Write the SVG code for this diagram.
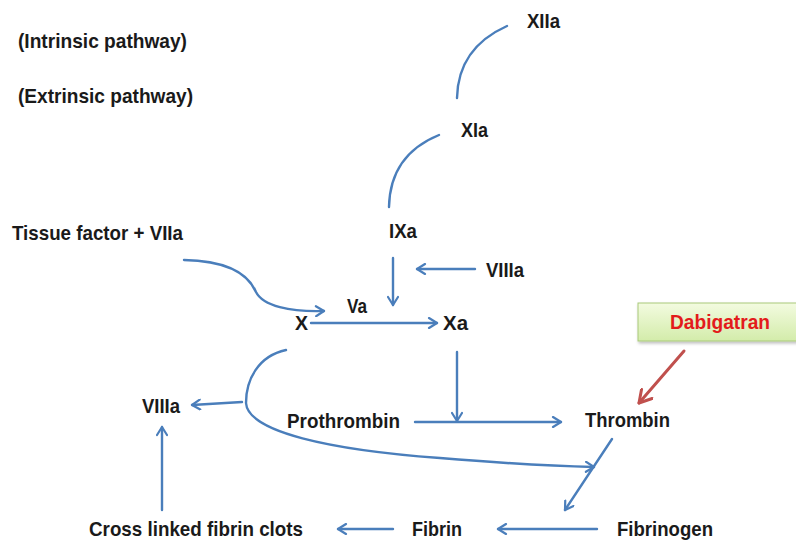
<svg xmlns="http://www.w3.org/2000/svg" width="796" height="542" viewBox="0 0 796 542">
<style>
text{font-family:"Liberation Sans",Arial,sans-serif;font-weight:bold;font-size:21px;fill:#1a1a1a}
.c{fill:none;stroke:#4a7ebb;stroke-width:2.4;stroke-linecap:round}
.r{fill:none;stroke:#c0504d;stroke-width:3;stroke-linecap:round}
</style>
<defs>
<marker id="a" viewBox="0 0 12 12" refX="10" refY="6" markerWidth="12" markerHeight="12" markerUnits="userSpaceOnUse" orient="auto">
<path d="M2,1 L10,6 L2,11" fill="none" stroke="#4a7ebb" stroke-width="2.2" stroke-linecap="round" stroke-linejoin="round"/>
</marker>
<marker id="ar" viewBox="0 0 16 16" refX="14" refY="8" markerWidth="16" markerHeight="16" markerUnits="userSpaceOnUse" orient="auto">
<path d="M2,1 L14,8 L2,15" fill="none" stroke="#c0504d" stroke-width="3" stroke-linecap="round" stroke-linejoin="round"/>
</marker>
<linearGradient id="g" x1="0" y1="0" x2="0" y2="1">
<stop offset="0" stop-color="#f3fbe0"/>
<stop offset="1" stop-color="#d3ecaa"/>
</linearGradient>
<filter id="sh" x="-10%" y="-20%" width="130%" height="160%">
<feDropShadow dx="1" dy="2" stdDeviation="1.5" flood-color="#000" flood-opacity="0.25"/>
</filter>
</defs>
<rect width="796" height="542" fill="#fff"/>

<g id="labels">
<text x="18" y="48" textLength="169" lengthAdjust="spacingAndGlyphs">(Intrinsic pathway)</text>
<text x="18" y="103" textLength="175" lengthAdjust="spacingAndGlyphs">(Extrinsic pathway)</text>
</g>

<g id="connectors">
<path class="c" d="M507,26 Q458,48 457,98"/>
<path class="c" d="M439,135 Q390,155 389,207"/>
<path class="c" marker-end="url(#a)" d="M184,260 C235,261 250,278 256,292 C263,306 290,312 324,311"/>
<path class="c" marker-end="url(#a)" d="M311,323 L437,323"/>
<path class="c" marker-end="url(#a)" d="M393,258 L393,305"/>
<path class="c" marker-end="url(#a)" d="M475,269 L417,269"/>
<path class="c" marker-end="url(#a)" d="M457,352 L457,421"/>
<path class="c" marker-end="url(#a)" d="M415,422 L561,422"/>
<path class="c" marker-end="url(#a)" d="M612,439 L565,510"/>
<path class="c" marker-end="url(#a)" d="M286,350 C258,356 246,380 246,403 C248,432 330,450 440,458 C500,463 550,466 594,467"/>
<path class="c" marker-end="url(#a)" d="M242,402 L192,405"/>
<path class="c" marker-end="url(#a)" d="M162,510 L162,427"/>
<path class="c" marker-end="url(#a)" d="M393,529 L338,529"/>
<path class="c" marker-end="url(#a)" d="M597,529 L498,529"/>
<path class="r" marker-end="url(#ar)" d="M684,351 L639,403"/>
</g>

<g id="XIIa"><text x="527" y="28" textLength="33" lengthAdjust="spacingAndGlyphs">XIIa</text></g>
<g id="XIa"><text x="461" y="137" textLength="27" lengthAdjust="spacingAndGlyphs">XIa</text></g>
<g id="IXa"><text x="389" y="238" textLength="28" lengthAdjust="spacingAndGlyphs">IXa</text></g>
<g id="TF"><text x="12" y="240" textLength="171" lengthAdjust="spacingAndGlyphs">Tissue factor + VIIa</text></g>
<g id="VIIIa_top"><text x="486" y="277" textLength="38" lengthAdjust="spacingAndGlyphs">VIIIa</text></g>
<g id="Va"><text x="347" y="313" textLength="20" lengthAdjust="spacingAndGlyphs">Va</text></g>
<g id="X"><text x="295" y="330" textLength="13" lengthAdjust="spacingAndGlyphs">X</text></g>
<g id="Xa"><text x="443" y="330" textLength="25" lengthAdjust="spacingAndGlyphs">Xa</text></g>
<g id="Dabigatran">
<rect x="638" y="303" width="162" height="38" fill="url(#g)" stroke="#a9c97a" stroke-width="1" filter="url(#sh)"/>
<text x="670" y="329" textLength="100" lengthAdjust="spacingAndGlyphs" style="fill:#e31b1b">Dabigatran</text>
</g>
<g id="VIIIa_left"><text x="142" y="413" textLength="38" lengthAdjust="spacingAndGlyphs">VIIIa</text></g>
<g id="Prothrombin"><text x="287" y="428" textLength="113" lengthAdjust="spacingAndGlyphs">Prothrombin</text></g>
<g id="Thrombin"><text x="585" y="427" textLength="85" lengthAdjust="spacingAndGlyphs">Thrombin</text></g>
<g id="Clots"><text x="89" y="536" textLength="214" lengthAdjust="spacingAndGlyphs">Cross linked fibrin clots</text></g>
<g id="Fibrin"><text x="412" y="536" textLength="50" lengthAdjust="spacingAndGlyphs">Fibrin</text></g>
<g id="Fibrinogen"><text x="617" y="536" textLength="96" lengthAdjust="spacingAndGlyphs">Fibrinogen</text></g>
</svg>
